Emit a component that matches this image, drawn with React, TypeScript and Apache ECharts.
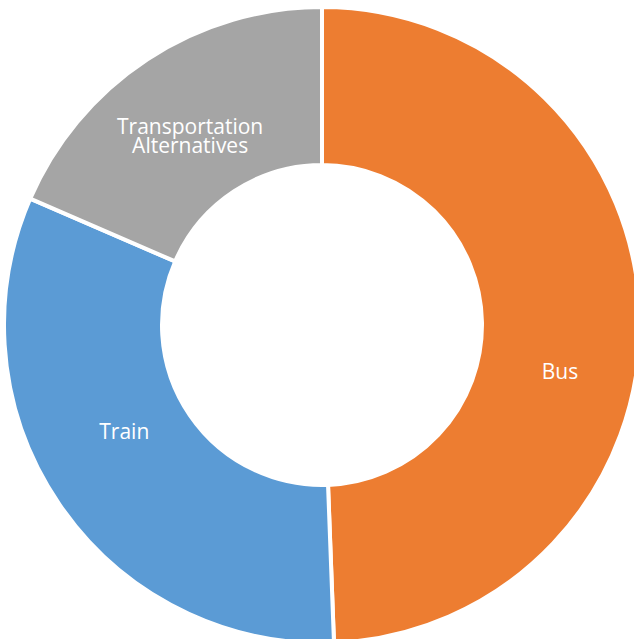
import React, { useEffect, useRef } from "react";
import * as echarts from "echarts";

const categories = ["Bus", "Train", "Transportation\nAlternatives"];
const values = [49.4, 32.1, 18.5];
const colors = ["#ED7D31", "#5B9BD5", "#A5A5A5"];
const labelShiftX = [-4, 2, 1];
const labelShiftY = [51, -31, 13];

export default function App() {
  const ref = useRef<HTMLDivElement>(null);
  useEffect(() => {
    if (!ref.current) return;
    const chart = echarts.init(ref.current, null, { renderer: "svg" });
    chart.setOption({
      animation: false,
      backgroundColor: "#ffffff",
      series: [
        {
          type: "pie",
          center: [322, 325],
          radius: [160, 318],
          startAngle: 90,
          clockwise: true,
          avoidLabelOverlap: false,
          itemStyle: { borderColor: "#ffffff", borderWidth: 4 },
          label: {
            show: true,
            position: "inside",
            color: "#ffffff",
            fontFamily: "Open Sans",
            fontSize: 21,
            lineHeight: 19,
            formatter: "{b}",
          },
          labelLine: { show: false },
          emphasis: { disabled: true },
          labelLayout: (params: any) => ({
            dx: labelShiftX[params.dataIndex],
            dy: labelShiftY[params.dataIndex],
          }),
          data: categories.map((c, i) => ({
            name: c,
            value: values[i],
            itemStyle: { color: colors[i] },
          })),
        },
      ],
    });
    return () => chart.dispose();
  }, []);
  return (
    <div
      ref={ref}
      style={{ position: "fixed", left: 0, top: 0, width: 634, height: 639 }}
    />
  );
}
